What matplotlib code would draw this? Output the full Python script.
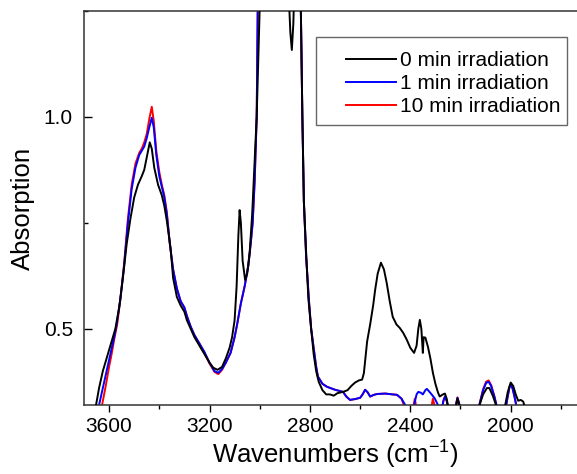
import numpy as np
import matplotlib.pyplot as plt
from matplotlib.ticker import MultipleLocator
from matplotlib.legend_handler import HandlerLine2D
from matplotlib.patches import Rectangle

plt.rcParams['font.family'] = ['Liberation Sans', 'DejaVu Sans']
plt.rcParams['mathtext.default'] = 'regular'

# spectra: wavenumber (cm-1), absorption
wn_0min = [3665, 3652, 3640, 3625, 3610, 3600, 3585, 3575, 3560, 3545, 3530, 3515,
           3500, 3485, 3470, 3460, 3450, 3438, 3430, 3420, 3405, 3390, 3380, 3370,
           3355, 3345, 3330, 3315, 3300, 3290, 3275, 3260, 3240, 3220, 3200, 3185,
           3168, 3150, 3135, 3120, 3110, 3100, 3092, 3085, 3080, 3075, 3068, 3058,
           3050, 3040, 3030, 3020, 3012, 3005, 2998, 2990, 2900, 2885, 2878, 2872,
           2866, 2860, 2850, 2840, 2836, 2830, 2824, 2815, 2806, 2795, 2785, 2775,
           2765, 2750, 2735, 2720, 2705, 2690, 2668, 2650, 2635, 2620, 2605, 2592,
           2585, 2578, 2572, 2560, 2548, 2540, 2530, 2517, 2505, 2494, 2482, 2470,
           2455, 2442, 2428, 2414, 2400, 2385, 2375, 2368, 2362, 2356, 2350, 2347,
           2340, 2330, 2320, 2310, 2300, 2290, 2283, 2270, 2262, 2255, 2248, 2235,
           2220, 2212, 2205, 2195, 2140, 2124, 2110, 2095, 2085, 2070, 2056, 2040,
           2025, 2012, 2000, 1990, 1980, 1970, 1960, 1950, 1944, 1935]
abs_0min = [0.28, 0.32, 0.36, 0.40, 0.43, 0.45, 0.48, 0.50, 0.55, 0.62, 0.70, 0.76,
            0.81, 0.84, 0.86, 0.875, 0.905, 0.94, 0.925, 0.88, 0.84, 0.815, 0.79, 0.755,
            0.69, 0.62, 0.575, 0.555, 0.54, 0.52, 0.50, 0.48, 0.46, 0.44, 0.42, 0.408,
            0.403, 0.41, 0.43, 0.455, 0.48, 0.52, 0.60, 0.72, 0.78, 0.75, 0.66, 0.615,
            0.63, 0.68, 0.77, 0.90, 1.0, 1.15, 1.3, 1.6, 1.6, 1.30, 1.20, 1.158,
            1.22, 1.35, 1.5, 1.30, 1.25, 1.0, 0.80, 0.68, 0.57, 0.50, 0.44, 0.40,
            0.375, 0.355, 0.345, 0.345, 0.342, 0.348, 0.351, 0.355, 0.365, 0.373, 0.378, 0.38,
            0.395, 0.435, 0.47, 0.51, 0.555, 0.592, 0.63, 0.656, 0.64, 0.608, 0.565, 0.528,
            0.51, 0.502, 0.49, 0.474, 0.455, 0.443, 0.46, 0.50, 0.521, 0.50, 0.443, 0.48,
            0.479, 0.458, 0.43, 0.396, 0.37, 0.35, 0.34, 0.345, 0.347, 0.335, 0.31, 0.29,
            0.31, 0.335, 0.32, 0.29, 0.29, 0.32, 0.345, 0.36, 0.36, 0.34, 0.315, 0.29,
            0.31, 0.35, 0.373, 0.365, 0.345, 0.33, 0.332, 0.328, 0.315, 0.29]

wn_1min = [3660, 3640, 3625, 3610, 3595, 3580, 3570, 3555, 3540, 3525, 3510, 3495,
           3480, 3470, 3460, 3450, 3440, 3430, 3422, 3412, 3400, 3390, 3380, 3370,
           3358, 3345, 3330, 3315, 3300, 3290, 3275, 3260, 3240, 3220, 3200, 3180,
           3165, 3150, 3135, 3116, 3100, 3090, 3075, 3060, 3045, 3036, 3028, 3020,
           3012, 3008, 3000, 2850, 2840, 2836, 2830, 2824, 2815, 2804, 2795, 2784,
           2775, 2768, 2750, 2732, 2700, 2668, 2655, 2640, 2620, 2600, 2590, 2580,
           2570, 2560, 2545, 2532, 2500, 2470, 2453, 2435, 2420, 2410, 2395, 2385,
           2375, 2368, 2358, 2350, 2340, 2334, 2325, 2315, 2302, 2290, 2280, 2275,
           2268, 2262, 2255, 2248, 2230, 2222, 2212, 2204, 2195, 2140, 2125, 2110,
           2098, 2088, 2078, 2065, 2056, 2045, 2025, 2015, 2005, 2000, 1993, 1985,
           1978, 1970]
abs_1min = [0.28, 0.32, 0.36, 0.40, 0.44, 0.48, 0.51, 0.57, 0.65, 0.75, 0.83, 0.88,
            0.91, 0.92, 0.93, 0.95, 0.975, 0.998, 0.975, 0.91, 0.86, 0.835, 0.81, 0.77,
            0.70, 0.64, 0.595, 0.565, 0.55, 0.53, 0.505, 0.485, 0.465, 0.445, 0.42, 0.40,
            0.396, 0.405, 0.42, 0.443, 0.48, 0.51, 0.56, 0.60, 0.65, 0.70, 0.75, 0.85,
            1.0, 1.25, 1.5, 1.5, 1.3, 1.25, 1.0, 0.80, 0.67, 0.568, 0.50, 0.45,
            0.41, 0.387, 0.37, 0.363, 0.356, 0.351, 0.34, 0.332, 0.334, 0.337, 0.345, 0.356,
            0.35, 0.34, 0.344, 0.346, 0.347, 0.345, 0.344, 0.335, 0.32, 0.30, 0.30, 0.32,
            0.345, 0.351, 0.349, 0.345, 0.355, 0.358, 0.352, 0.345, 0.335, 0.32, 0.30, 0.31,
            0.33, 0.34, 0.33, 0.31, 0.29, 0.31, 0.337, 0.32, 0.29, 0.29, 0.32, 0.355,
            0.372, 0.375, 0.365, 0.34, 0.318, 0.29, 0.29, 0.33, 0.362, 0.368, 0.36, 0.34,
            0.32, 0.29]

wn_10min = [3650, 3628, 3615, 3600, 3590, 3578, 3568, 3555, 3540, 3525, 3510, 3495,
            3480, 3470, 3460, 3450, 3440, 3430, 3422, 3412, 3400, 3390, 3380, 3370,
            3358, 3345, 3330, 3315, 3300, 3290, 3275, 3260, 3240, 3220, 3200, 3180,
            3165, 3150, 3135, 3116, 3100, 3090, 3075, 3060, 3045, 3036, 3028, 3020,
            3012, 3008, 3000, 2850, 2840, 2836, 2830, 2824, 2815, 2804, 2795, 2784,
            2775, 2768, 2750, 2732, 2700, 2668, 2655, 2640, 2620, 2600, 2590, 2580,
            2570, 2560, 2545, 2532, 2500, 2470, 2453, 2435, 2420, 2400, 2390, 2382,
            2375, 2360, 2320, 2310, 2300, 2290, 2275, 2268, 2262, 2255, 2248, 2230,
            2222, 2212, 2204, 2195, 2140, 2125, 2110, 2098, 2088, 2078, 2065, 2056,
            2045, 2025, 2015, 2005, 2000, 1993, 1985, 1978, 1970]
abs_10min = [0.28, 0.32, 0.36, 0.41, 0.44, 0.48, 0.51, 0.57, 0.655, 0.76, 0.84, 0.89,
             0.915, 0.925, 0.94, 0.96, 0.995, 1.024, 0.99, 0.92, 0.87, 0.84, 0.815, 0.775,
             0.70, 0.64, 0.595, 0.565, 0.55, 0.53, 0.505, 0.485, 0.465, 0.443, 0.418, 0.398,
             0.393, 0.403, 0.42, 0.443, 0.48, 0.51, 0.56, 0.60, 0.65, 0.70, 0.75, 0.85,
             1.0, 1.25, 1.5, 1.5, 1.3, 1.25, 1.0, 0.80, 0.67, 0.568, 0.50, 0.45,
             0.41, 0.387, 0.37, 0.363, 0.356, 0.351, 0.34, 0.332, 0.334, 0.337, 0.345, 0.356,
             0.35, 0.34, 0.344, 0.346, 0.347, 0.345, 0.344, 0.335, 0.31, 0.29, 0.31, 0.335,
             0.31, 0.29, 0.30, 0.335, 0.31, 0.29, 0.31, 0.33, 0.34, 0.33, 0.31, 0.29,
             0.31, 0.338, 0.32, 0.29, 0.29, 0.32, 0.357, 0.375, 0.378, 0.367, 0.34, 0.318,
             0.29, 0.29, 0.33, 0.362, 0.368, 0.36, 0.34, 0.32, 0.29]

labels = ['0 min irradiation', '1 min irradiation', '10 min irradiation']

W, H = 577, 474
fig = plt.figure(figsize=(W / 100, H / 100), dpi=100)
ax = fig.add_axes([84 / W, 69 / H, 502 / W, 394 / H])

l_red, = ax.plot(wn_10min, abs_10min, color='#ff0000', lw=1.4, zorder=1)
l_blue, = ax.plot(wn_1min, abs_1min, color='#0000ff', lw=1.4, zorder=2)
l_black, = ax.plot(wn_0min, abs_0min, color='black', lw=1.4, zorder=3)

ax.set_xlim(3700, 1700)
ax.set_ylim(0.32, 1.25)
ax.set_xticks([3600, 3200, 2800, 2400, 2000])
ax.xaxis.set_minor_locator(MultipleLocator(200))
ax.set_yticks([0.5, 1.0])
ax.yaxis.set_minor_locator(MultipleLocator(0.25))

ax.tick_params(axis='x', which='major', direction='out', length=5, width=1,
               labelsize=15, pad=4)
ax.tick_params(axis='x', which='minor', direction='out', length=3, width=1)
ax.tick_params(axis='y', which='major', direction='in', length=6, width=1,
               labelsize=15, pad=8)
ax.tick_params(axis='y', which='minor', direction='in', length=3, width=1)
for s in ax.spines.values():
    s.set_linewidth(1.1)
    s.set_color('#333333')

ax.set_xlabel(r'Wavenumbers (cm$^{-1}$)', fontsize=18.5, labelpad=2)
ax.set_ylabel('Absorption', fontsize=18.5, labelpad=6)

# legend without its own frame; the box is drawn separately so the
# vertical and horizontal padding can differ like in the original
hmap = {h: HandlerLine2D(xpad=1.1) for h in (l_black, l_blue, l_red)}
leg = ax.legend([l_black, l_blue, l_red], labels, loc='upper right',
                bbox_to_anchor=(560 / W, 1 - 51 / H), bbox_transform=fig.transFigure,
                fontsize=15, handlelength=3.5, handletextpad=0.15, labelspacing=0.2,
                frameon=False, borderpad=0, borderaxespad=0, handler_map=hmap)
fig.patches.append(Rectangle((316 / W, 1 - 125 / H), 251 / W, 88 / H,
                             transform=fig.transFigure, fill=False,
                             edgecolor='#666666', lw=1.0, zorder=5))

fig.savefig('out.png', dpi=100)
